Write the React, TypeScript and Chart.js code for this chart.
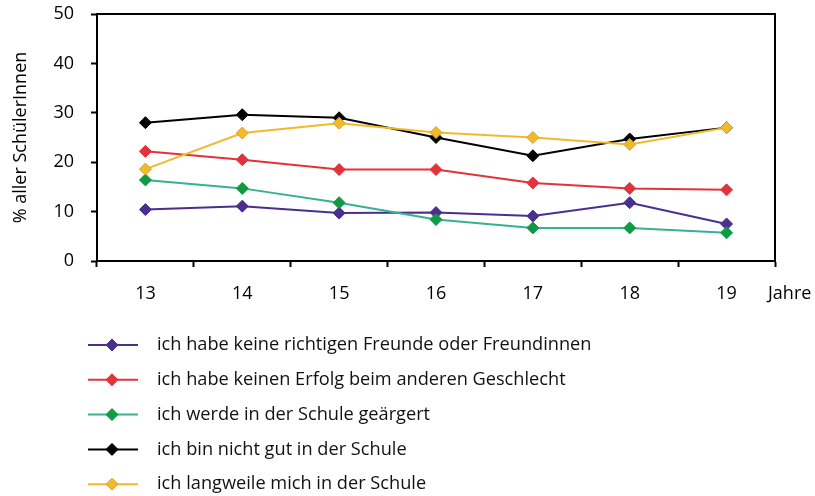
import React, { useEffect, useRef } from "react";
import { Chart, registerables } from "chart.js";

Chart.register(...registerables);

const ages = ["13", "14", "15", "16", "17", "18", "19"];
const axisTitle = "% aller SchülerInnen";
const xUnit = "Jahre";

const labelsSeries = [
  "ich habe keine richtigen Freunde oder Freundinnen",
  "ich habe keinen Erfolg beim anderen Geschlecht",
  "ich werde in der Schule geärgert",
  "ich bin nicht gut in der Schule",
  "ich langweile mich in der Schule",
];

const keineFreunde = [10.4, 11.1, 9.7, 9.8, 9.1, 11.8, 7.5];
const keinErfolg = [22.2, 20.5, 18.5, 18.5, 15.8, 14.7, 14.4];
const geaergert = [16.4, 14.7, 11.8, 8.4, 6.7, 6.7, 5.7];
const nichtGut = [28.0, 29.6, 29.0, 25.0, 21.3, 24.7, 27.0];
const langweile = [18.6, 25.9, 27.9, 26.0, 25.0, 23.6, 27.0];

const seriesValues = [keineFreunde, keinErfolg, geaergert, nichtGut, langweile];
const lineColors = ["#4a2f8e", "#e2323c", "#36b191", "#000000", "#f1b92c"];
const markerColors = ["#4a2f8e", "#e2323c", "#0f9a43", "#000000", "#f1b92c"];
const markerBorders = ["#4a2f8e", "#e2323c", "#0f9a43", "#000000", "#d9a21f"];

const FONT = "'Open Sans', sans-serif";

export default function App() {
  const ref = useRef<HTMLCanvasElement | null>(null);

  useEffect(() => {
    document.body.style.margin = "0";
    const canvas = ref.current;
    if (!canvas) return;

    const extras = {
      id: "extras",
      afterDraw(chart: any) {
        const ctx = chart.ctx;
        const a = chart.chartArea;
        ctx.save();
        ctx.strokeStyle = "#000";
        ctx.lineWidth = 2;
        ctx.beginPath();
        ctx.moveTo(a.left, a.top);
        ctx.lineTo(a.right, a.top);
        ctx.lineTo(a.right, a.bottom);
        ctx.stroke();
        ctx.fillStyle = "#000";
        ctx.font = `18px ${FONT}`;
        ctx.textAlign = "left";
        ctx.textBaseline = "middle";
        ctx.fillText(xUnit, 768, a.bottom + 6 + 16 + 10.8);
        const rowY0 = 345;
        const rowStep = 34.8;
        chart.data.datasets.forEach((ds: any, i: number) => {
          const y = rowY0 + i * rowStep;
          ctx.strokeStyle = ds.borderColor;
          ctx.lineWidth = 2;
          ctx.beginPath();
          ctx.moveTo(88, y);
          ctx.lineTo(138, y);
          ctx.stroke();
          ctx.fillStyle = ds.pointBackgroundColor;
          ctx.strokeStyle = ds.pointBorderColor;
          ctx.lineWidth = 1;
          const r = 6;
          ctx.beginPath();
          ctx.moveTo(112, y - r);
          ctx.lineTo(112 + r, y);
          ctx.lineTo(112, y + r);
          ctx.lineTo(112 - r, y);
          ctx.closePath();
          ctx.fill();
          ctx.stroke();
          ctx.fillStyle = "#111";
          ctx.font = `18.2px ${FONT}`;
          ctx.textAlign = "left";
          ctx.textBaseline = "middle";
          ctx.fillText(ds.label, 157, y);
        });
        ctx.restore();
      },
    };

    const chart = new Chart(canvas, {
      type: "line",
      data: {
        labels: ages,
        datasets: seriesValues.map((vals, i) => ({
          label: labelsSeries[i],
          data: vals,
          borderColor: lineColors[i],
          backgroundColor: markerColors[i],
          pointBackgroundColor: markerColors[i],
          pointBorderColor: markerBorders[i],
          pointBorderWidth: 1,
          pointStyle: "rectRot",
          pointRadius: 6,
          borderWidth: 2,
          tension: 0,
          fill: false,
          order: 4 - i,
        })),
      },
      options: {
        responsive: false,
        animation: false,
        devicePixelRatio: 1,
        layout: { padding: { left: 0, right: 40, top: 14, bottom: 185 } },
        plugins: {
          legend: { display: false },
          tooltip: { enabled: false },
        },
        scales: {
          x: {
            offset: true,
            grid: {
              offset: true,
              drawOnChartArea: false,
              drawTicks: true,
              tickLength: 6,
              tickWidth: 2,
              tickColor: "#000",
            },
            border: { display: true, color: "#000", width: 2 },
            ticks: {
              color: "#000",
              padding: 16,
              font: { family: FONT, size: 18 },
              maxRotation: 0,
            },
            afterFit(scale: any) {
              scale.height = 50;
              scale.paddingLeft = 0;
              scale.paddingRight = 0;
            },
          },
          y: {
            min: 0,
            max: 50,
            grid: {
              drawOnChartArea: false,
              drawTicks: true,
              tickLength: 6,
              tickWidth: 2,
              tickColor: "#000",
            },
            border: { display: true, color: "#000", width: 2 },
            ticks: {
              stepSize: 10,
              color: "#000",
              padding: 17,
              font: { family: FONT, size: 18 },
            },
            title: {
              display: true,
              text: axisTitle,
              color: "#000",
              font: { family: FONT, size: 18 },
              padding: { top: 10, bottom: 0 },
            },
            afterFit(scale: any) {
              scale.width = 97;
              scale.paddingTop = 0;
              scale.paddingBottom = 0;
            },
          },
        },
      },
      plugins: [extras],
    });

    return () => chart.destroy();
  }, []);

  return (
    <div style={{ width: 815, height: 496 }}>
      <canvas ref={ref} width={815} height={496} style={{ display: "block" }} />
    </div>
  );
}
